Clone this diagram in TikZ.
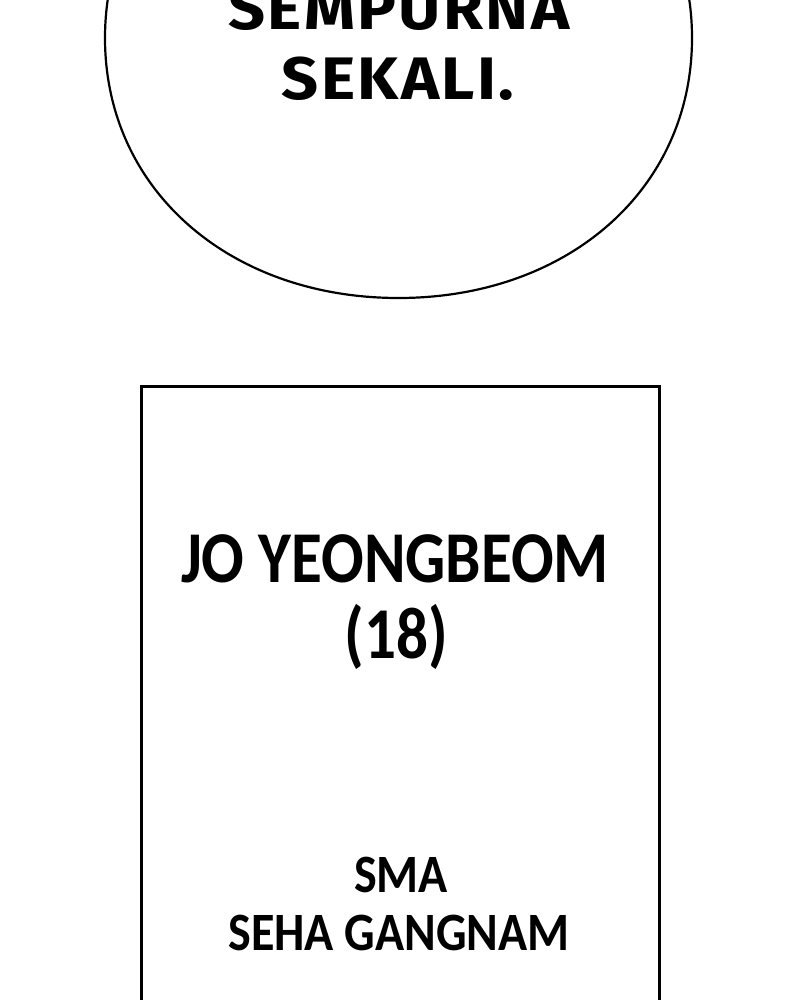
\documentclass[tikz,border=0pt]{standalone}
\usepackage{fontspec}
\newfontfamily\namefont{Carlito}[BoldFont={* Bold},BoldFeatures={FakeStretch=0.865}]
\newfontfamily\schoolfont{Carlito}[BoldFont={* Bold},BoldFeatures={FakeStretch=0.89}]
\newfontfamily\comicfont{Fira Sans}[BoldFont={* Bold},BoldFeatures={FakeStretch=1.08,LetterSpace=4}]
\begin{document}
\begin{tikzpicture}[x=1pt,y=-1pt,
  outline/.style={draw=black,line width=3pt},
  bubbletext/.style={font=\comicfont\bfseries\fontsize{60}{60}\selectfont,anchor=base,inner sep=0pt},
  nametext/.style={font=\namefont\bfseries\fontsize{73}{73}\selectfont,anchor=base,inner sep=0pt},
  schooltext/.style={font=\schoolfont\bfseries\fontsize{54}{54}\selectfont,anchor=base,inner sep=0pt}]
\useasboundingbox (0,0) rectangle (800,1000);
\clip (0,0) rectangle (800,1000);
\fill[white] (0,0) rectangle (800,1000);
% speech bubble
\draw[outline,line width=2.2pt]
  (105,38) .. controls (105,190) and (230,298) .. (398.5,298)
  .. controls (567,298) and (692,190) .. (692,38)
  .. controls (692,-114) and (567,-222) .. (398.5,-222)
  .. controls (230,-222) and (105,-114) .. (105,38) -- cycle;
\node[bubbletext] (l1) at (399,30) {SEMPURNA};
\node[bubbletext] (l2) at (398,100) {SEKALI.};
% caption box
\draw[outline] (141,386) rectangle (659,1010);
\node[nametext] (n1) at (395,582) {JO YEONGBEOM};
\node[nametext] (n2) at (396,658) {(18)};
\node[schooltext] (s1) at (401,892) {SMA};
\node[schooltext] (s2) at (399,950) {SEHA GANGNAM};
\end{tikzpicture}
\end{document}
